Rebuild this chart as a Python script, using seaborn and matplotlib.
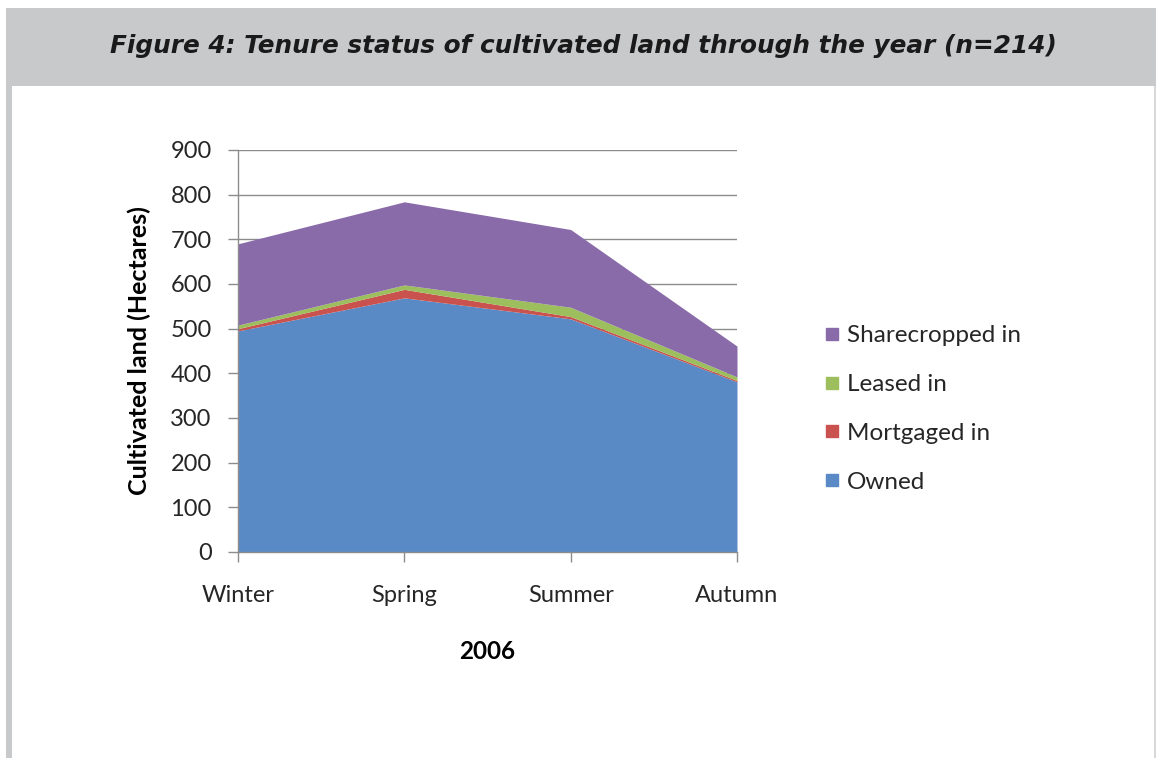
import matplotlib
matplotlib.use("Agg")
import matplotlib.pyplot as plt
from matplotlib.lines import Line2D
from matplotlib.patches import Rectangle
import seaborn as sns
import numpy as np
import pandas as pd

seasons = ["Winter", "Spring", "Summer", "Autumn"]
owned = [495, 569, 522, 381]
mortgaged_in = [5, 19, 5, 3]
leased_in = [8, 10, 21, 8]
sharecropped_in = [182, 186, 174, 69]
series_names = ["Owned", "Mortgaged in", "Leased in", "Sharecropped in"]
colors = ["#5A8AC6", "#C9524F", "#9DBE5C", "#896BAA"]
yticks = [0, 100, 200, 300, 400, 500, 600, 700, 800, 900]

sns.set_theme(style="white")
plt.rcParams["font.family"] = ["Lato", "DejaVu Sans"]

W, H = 1156, 758
fig = plt.figure(figsize=(W / 100, H / 100), dpi=100)
fig.patch.set_facecolor("white")

# header band and borders
fig.add_artist(Rectangle((6 / W, 1 - 86 / H), (1156 - 6) / W, 78 / H,
                         transform=fig.transFigure, facecolor="#C8C9CB", edgecolor="none", zorder=0))
fig.add_artist(Rectangle((6 / W, 0), 6 / W, 1 - 86 / H,
                         transform=fig.transFigure, facecolor="#C8C9CB", edgecolor="none", zorder=0))
fig.add_artist(Rectangle((1154 / W, 0), 1.5 / W, 1 - 86 / H,
                         transform=fig.transFigure, facecolor="#D8D8D8", edgecolor="none", zorder=0))
fig.text(583 / W, 1 - 46 / H, "Figure 4: Tenure status of cultivated land through the year (n=214)",
         ha="center", va="center", fontsize=17.8, fontweight="bold", fontstyle="italic",
         family=["DejaVu Sans"], color="#1a1a1a")

ax = fig.add_axes([238 / W, 1 - 552 / H, (737 - 238) / W, (552 - 150) / H])
df = pd.DataFrame({"season": seasons, "Owned": owned, "Mortgaged in": mortgaged_in,
                   "Leased in": leased_in, "Sharecropped in": sharecropped_in})
x = np.arange(len(seasons))
ax.stackplot(x, [df[s] for s in series_names], colors=colors, linewidth=0, zorder=3)

ax.set_xlim(0, len(seasons) - 1)
ax.set_ylim(0, 900)
ax.set_yticks(yticks)
ax.set_yticklabels([str(v) for v in yticks])
ax.set_xticks(x)
ax.set_xticklabels(seasons)
ax.yaxis.grid(True, color="#8C8C8C", linewidth=1.0, zorder=0)
ax.set_axisbelow(True)
for side in ["top", "right"]:
    ax.spines[side].set_visible(False)
for side in ["left", "bottom"]:
    ax.spines[side].set_color("#8C8C8C")
    ax.spines[side].set_linewidth(1.0)
    ax.spines[side].set_zorder(4)
ax.tick_params(axis="both", which="both", length=7, width=1, color="#8C8C8C",
               labelsize=17, labelcolor="#262626", direction="out")
ax.tick_params(axis="x", pad=17, bottom=True)
ax.tick_params(axis="y", pad=12, left=True)
ax.set_xlabel("2006", fontsize=17.5, fontweight="bold", color="#000000", labelpad=24)
ax.set_ylabel("Cultivated land (Hectares)", fontsize=18, fontweight="bold", color="#000000", labelpad=14)

handles = [Line2D([0], [0], marker="s", linestyle="none", markersize=8,
                  markerfacecolor=c, markeredgecolor=c) for c in colors[::-1]]
leg = fig.legend(handles, series_names[::-1], loc="center left",
                 bbox_to_anchor=(798 / W, 1 - 409 / H), frameon=False,
                 fontsize=17.5, labelspacing=1.15, handletextpad=0.1, handlelength=1.0)
for t in leg.get_texts():
    t.set_color("#262626")

fig.savefig("out.png", dpi=100, facecolor="white")
